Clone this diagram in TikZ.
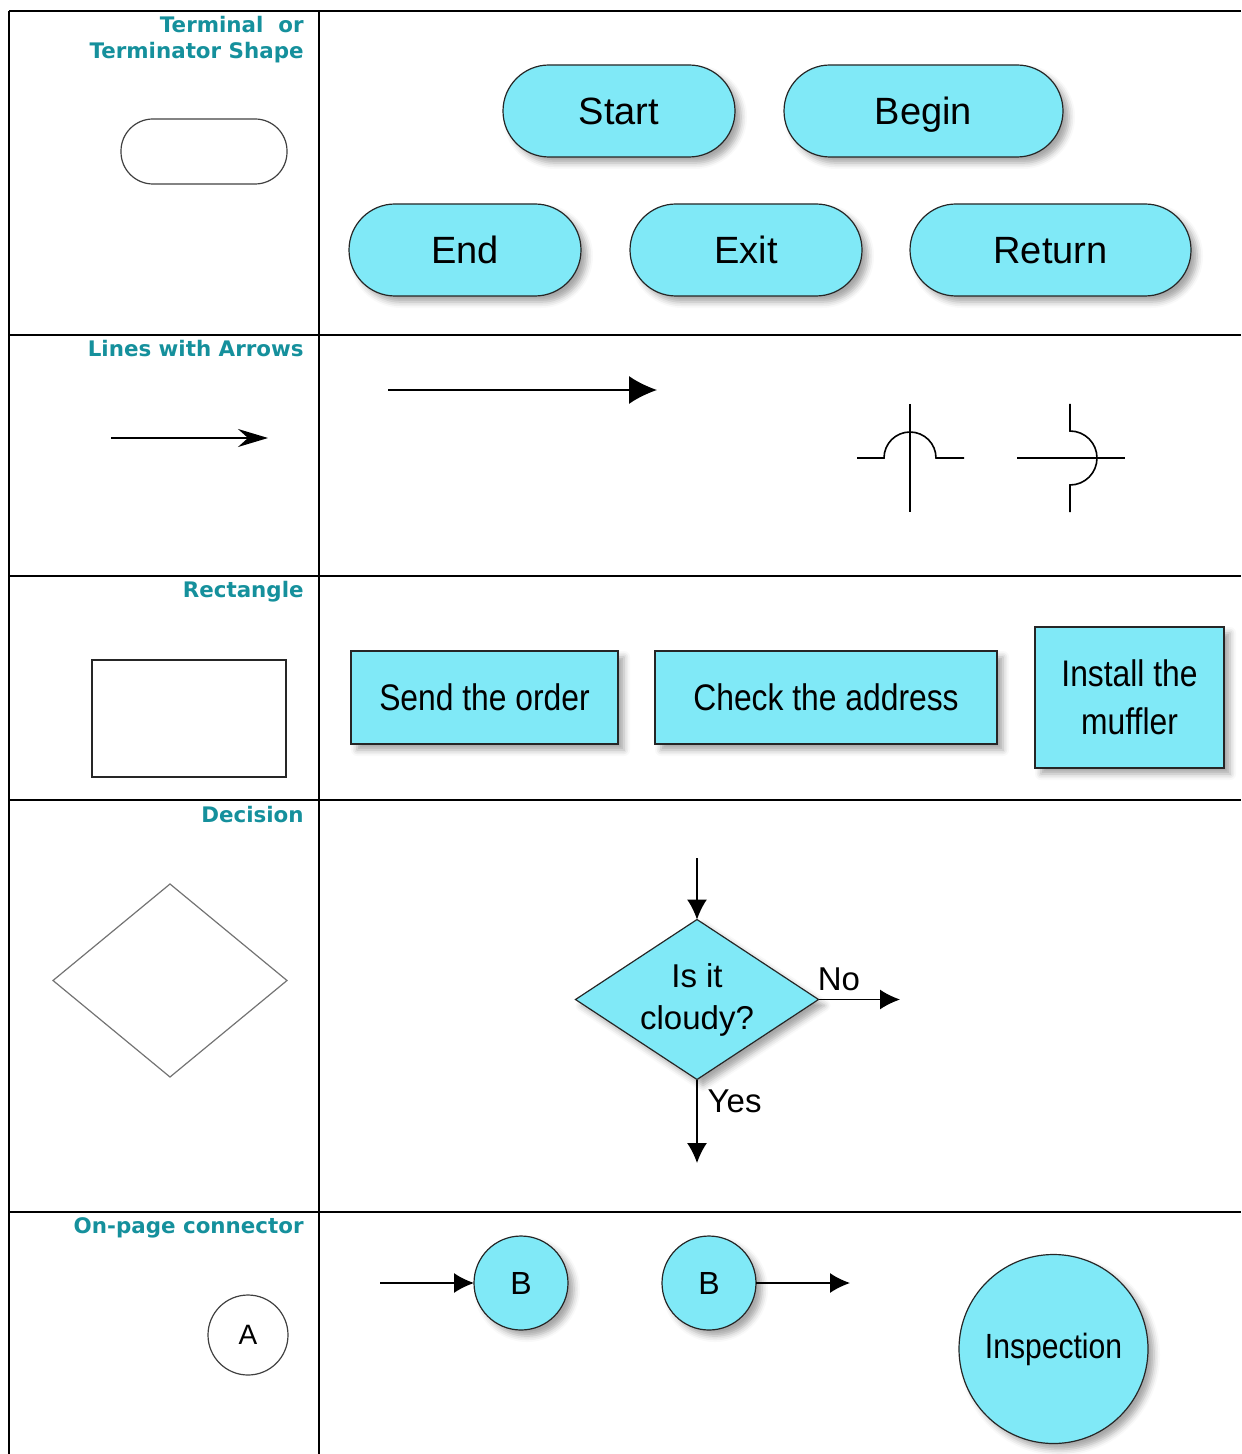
\documentclass[tikz,border=0pt]{standalone}
\usepackage{fontspec}
\setmainfont{Liberation Sans}
\newfontfamily\labelfont{DejaVu Sans}
\newfontfamily\narrowfont{Liberation Sans}[FakeStretch=0.86]
\usetikzlibrary{arrows.meta,shapes.geometric,shadows.blur}
\definecolor{labelteal}{HTML}{15909C}
\definecolor{shapefill}{HTML}{80E9F7}

\tikzset{
  rowlabel/.style={anchor=north east,inner sep=0pt,align=right,text=labelteal,
    font=\labelfont\bfseries\fontsize{10.7}{13}\selectfont},
  filled/.style={draw=black!85,line width=0.6pt,fill=shapefill,outer sep=0pt,
    blur shadow={shadow xshift=3pt,shadow yshift=-3pt,shadow blur radius=3pt,shadow opacity=35}},
  outline/.style={draw=black!75,line width=0.6pt,outer sep=0pt},
  terminal/.style={filled,rectangle,rounded corners=23pt,minimum height=46pt,
    text height=13.6pt,text depth=0pt,font=\fontsize{19}{22}\selectfont},
  process/.style={filled,rectangle,minimum height=46.5pt,align=center,
    font=\narrowfont\fontsize{18.5}{24}\selectfont},
  connector/.style={filled,circle,inner sep=0pt},
  flowtip/.style={-{Latex[length=10pt,width=10pt]},line width=0.7pt}
}

\begin{document}
\begin{tikzpicture}[x=0.5pt,y=-0.5pt]
\useasboundingbox (0,0) rectangle (1241,1454);

% table
\draw[line width=1pt] (9,11) -- (1241,11);
\draw[line width=1pt] (9,11) -- (9,1454);
\draw[line width=1pt] (319,11) -- (319,1454);
\foreach \rowy in {335,576,800,1212}
  \draw[line width=1pt] (9,\rowy) -- (1241,\rowy);

% row labels
\node[rowlabel] (lblterm) at (304,16) {Terminal\ \ or\\Terminator Shape};
\node[rowlabel] (lbllines) at (304,340) {Lines with Arrows};
\node[rowlabel] (lblrect) at (304,581) {Rectangle};
\node[rowlabel] (lbldec) at (304,806) {Decision};
\node[rowlabel] (lblconn) at (304,1217) {On-page connector};

% terminals
\node[outline,rectangle,rounded corners=16pt,minimum width=83pt,minimum height=32.5pt] (termshape) at (204,151.5) {};
\node[terminal,minimum width=116pt] (start) at (619,111) {Start};
\node[terminal,minimum width=139.5pt] (begin) at (923.5,111) {Begin};
\node[terminal,minimum width=116pt] (endterm) at (465,250) {End};
\node[terminal,minimum width=116pt] (exit) at (746,250) {Exit};
\node[terminal,minimum width=140.5pt] (return) at (1050.5,250) {Return};

% lines with arrows
\coordinate (smallfrom) at (111,438);
\coordinate (smallto) at (268,438);
\draw[line width=0.9pt,-{Stealth[length=15pt,width=9pt,inset=5pt]}] (smallfrom) -- (smallto);
\coordinate (longfrom) at (388,390);
\coordinate (longto) at (657,390);
\draw[line width=0.9pt,-{Latex[length=14pt,width=14pt]}] (longfrom) -- (longto);

% line hops
\draw[line width=0.8pt] (910,404) -- (910,512);
\draw[line width=0.8pt] (857,458) -- (884,458) arc[start angle=180,end angle=360,radius=26] -- (964,458);
\draw[line width=0.8pt] (1017,458) -- (1125,458);
\draw[line width=0.8pt] (1070,404) -- (1070,431) arc[start angle=-90,end angle=90,radius=27] -- (1070,512);

% rectangles
\node[outline,rectangle,draw=black!85,minimum width=97pt,minimum height=58.5pt] (rectshape) at (189,718.5) {};
\node[process,minimum width=133.5pt] (send) at (484.5,697.5) {Send the order};
\node[process,minimum width=171pt] (check) at (826,697.5) {Check the address};
\node[process,minimum width=94.5pt,minimum height=70.5pt] (install) at (1129.5,697.5) {Install the\\muffler};

% decision
\node[outline,diamond,draw=black!55,minimum width=117pt,minimum height=96.5pt,inner sep=0pt] (decshape) at (170,980.5) {};
\node[filled,diamond,minimum width=121.5pt,minimum height=80pt,inner sep=0pt,aspect=1.5,
  align=center,font=\fontsize{16.5}{21}\selectfont] (cloudy) at (697,999.5) {Is it\\cloudy?};
\coordinate (decin) at (697,858);
\coordinate (decno) at (900,999.5);
\coordinate (decyes) at (697,1163);
\draw[flowtip] (decin) -- (cloudy.north);
\draw[flowtip] (cloudy.east) -- node[pos=0.25,above,inner sep=4pt,font=\fontsize{16.5}{19}\selectfont] (nolbl) {No} (decno);
\draw[flowtip] (cloudy.south) -- node[pos=0.26,right,inner sep=5pt,font=\fontsize{16.5}{19}\selectfont] (yeslbl) {Yes} (decyes);

% connectors
\node[outline,circle,minimum size=40pt,inner sep=0pt,font=\fontsize{14}{16}\selectfont] (conna) at (248,1335) {A};
\node[connector,minimum size=47pt,font=\fontsize{16}{19}\selectfont] (connbin) at (521,1283) {B};
\node[connector,minimum size=47pt,font=\fontsize{16}{19}\selectfont] (connbout) at (709,1283) {B};
\node[connector,minimum size=94.5pt,font=\narrowfont\fontsize{17.5}{19}\selectfont] (inspect) at (1053.5,1349) {Inspection};
\coordinate (bfrom) at (380,1283);
\coordinate (bto) at (850,1283);
\draw[flowtip] (bfrom) -- (connbin.west);
\draw[flowtip] (connbout.east) -- (bto);
\end{tikzpicture}
\end{document}
